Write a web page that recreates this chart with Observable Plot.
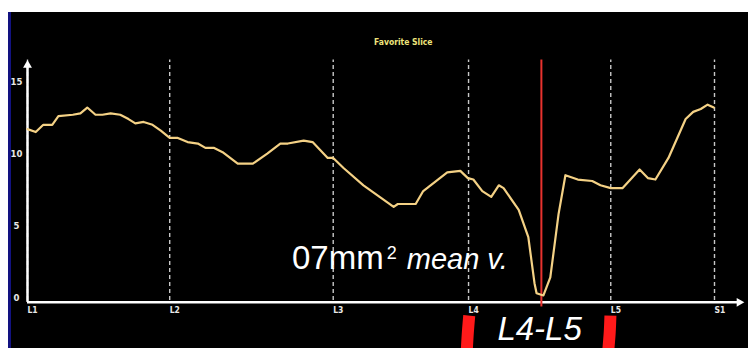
<!DOCTYPE html>
<html>
<head>
<meta charset="utf-8">
<script src="https://cdn.jsdelivr.net/npm/d3@7"></script>
<script src="https://cdn.jsdelivr.net/npm/@observablehq/plot@0.6"></script>
<style>
  html, body { margin: 0; padding: 0; background: #ffffff; width: 748px; height: 348px; overflow: hidden; }
  #panel { position: absolute; left: 8px; top: 12px; width: 737px; height: 336px; background: #000000; border-left: 3px solid #121280; }
  #chart { position: absolute; left: 0; top: 0; }
</style>
</head>
<body>
<div id="panel"></div>
<div id="chart"></div>
<script>
// Cross-sectional area along the spine (slice position 0 = L1, 100 = S1)
const slicePos = [0,1.2,2.3,3.6,4.5,6.6,7.7,8.7,9.9,10.9,12.1,13.5,14.7,15.7,16.9,18.2,19.4,20.7,21.8,23.3,24.8,25.9,27.1,28.4,30.6,32.8,34.9,36.8,37.9,40.2,41.5,43.7,44.5,46.0,48.9,53.3,53.9,56.5,57.6,61.1,63.0,64.1,64.9,66.2,67.5,68.6,69.3,71.5,72.9,73.8,74.1,75.1,76.1,77.3,78.3,80.1,82.2,83.4,84.9,86.6,89.1,90.3,91.4,93.3,95.8,96.9,98.0,99.0,99.9];
const areaValues = [11.9,11.7,12.2,12.2,12.8,12.9,13.0,13.4,12.9,12.9,13.0,12.9,12.6,12.3,12.4,12.2,11.8,11.3,11.3,11.0,10.9,10.6,10.6,10.3,9.5,9.5,10.2,10.9,10.9,11.1,11.0,9.9,9.9,9.2,8.0,6.5,6.7,6.7,7.6,8.9,9.0,8.5,8.4,7.6,7.2,8.0,7.8,6.3,4.4,1.2,0.5,0.35,1.6,6.0,8.7,8.4,8.3,8.0,7.8,7.8,9.1,8.5,8.4,9.9,12.6,13.1,13.3,13.6,13.4];

const levelLabels = ["L1","L2","L3","L4","L5","S1"];
const levelPos = [0,20.7,44.5,64.2,84.9,100];
const yTickValues = [0,5,10,15];
const favoriteSlice = [74.8];

const chartTitle = "Favorite Slice";
const annotMain = "07mm";
const annotSup = "2";
const annotItalic = "mean v.";
const annotLevel = "L4-L5";

// annotation anchors in data units
const annotMainPos = {x: 38.5, y: 2.22};
const annotSupPos = {x: 52.3, y: 2.85};
const annotItalicPos = {x: 55.2, y: 2.22};
const annotLevelPos = {x: 68.4, y: -2.71};
const bracketLeft = [{x: 64.3, y: -1.05}, {x: 64.1, y: -2.2}, {x: 63.95, y: -3.4}];
const bracketRight = [{x: 84.85, y: -1.05}, {x: 84.75, y: -2.2}, {x: 84.55, y: -3.4}];

const curve = slicePos.map((x, i) => ({x, y: areaValues[i]}));
const levels = levelPos.map((x, i) => ({x, label: levelLabels[i]}));

const plot = Plot.plot({
  width: 748,
  height: 348,
  marginLeft: 27,
  marginRight: 34,
  marginTop: 84,
  marginBottom: 48,
  x: {domain: [0, 100], axis: null},
  y: {domain: [0, 15], axis: null},
  style: {background: "transparent", overflow: "visible"},
  marks: [
    // dashed level lines
    Plot.ruleX(levels, {x: "x", y1: 0, y2: 16.7, stroke: "#c8c8c8", strokeWidth: 1.4, strokeDasharray: "4,3"}),
    // axes
    Plot.ruleX([0], {y1: -0.13, y2: 16.2, stroke: "#ffffff", strokeWidth: 2.5}),
    Plot.ruleY([-0.13], {x1: 0, x2: 103.5, stroke: "#ffffff", strokeWidth: 2.5}),
    Plot.dot([{x: 0, y: 16.35}], {x: "x", y: "y", symbol: "triangle", r: 3.3, fill: "#ffffff", stroke: null}),
    Plot.dot([{x: 103.6, y: -0.13}], {x: "x", y: "y", symbol: "triangle", r: 3.3, fill: "#ffffff", stroke: null, rotate: 90}),
    // y tick labels
    Plot.text(yTickValues, {x: -1.6, y: d => d, text: d => String(d), dy: -3, fill: "#e8e8e8", fontSize: 9.5, fontWeight: "bold", fontFamily: "DejaVu Sans Condensed, DejaVu Sans, sans-serif", textAnchor: "middle"}),
    // x level labels
    Plot.text(levels, {x: "x", y: -0.7, text: "label", dx: 0, fill: "#e8e8e8", fontSize: 8.5, fontWeight: "bold", fontFamily: "DejaVu Sans Condensed, DejaVu Sans, sans-serif", textAnchor: "start"}),
    // favorite slice marker
    Plot.ruleX(favoriteSlice, {x: d => d, y1: -0.45, y2: 16.7, stroke: "#e8322e", strokeWidth: 2}),
    // the curve
    Plot.line(curve, {x: "x", y: "y", stroke: "#f4d185", strokeWidth: 2.2, strokeLinejoin: "round"}),
    // title
    Plot.text([chartTitle], {x: 54.7, y: 17.9, text: d => d, fill: "#efe47c", fontSize: 8.5, fontWeight: "bold", fontFamily: "DejaVu Sans Condensed, DejaVu Sans, sans-serif", textAnchor: "middle"}),
    // annotation text
    Plot.text([annotMain], {x: annotMainPos.x, y: annotMainPos.y, text: d => d, fill: "#ffffff", fontSize: 33, fontFamily: "Liberation Sans, Arial, sans-serif", textAnchor: "start", lineAnchor: "bottom"}),
    Plot.text([annotSup], {x: annotSupPos.x, y: annotSupPos.y, text: d => d, fill: "#ffffff", fontSize: 18, fontFamily: "Liberation Sans, Arial, sans-serif", textAnchor: "start", lineAnchor: "bottom"}),
    Plot.text([annotItalic], {x: annotItalicPos.x, y: annotItalicPos.y, text: d => d, fill: "#ffffff", fontSize: 29, fontStyle: "italic", fontFamily: "Liberation Sans, Arial, sans-serif", textAnchor: "start", lineAnchor: "bottom"}),
    Plot.text([annotLevel], {x: annotLevelPos.x, y: annotLevelPos.y, text: d => d, fill: "#ffffff", fontSize: 33, fontStyle: "italic", fontFamily: "Liberation Sans, Arial, sans-serif", textAnchor: "start", lineAnchor: "bottom"}),
    // red brackets
    Plot.line(bracketLeft, {x: "x", y: "y", stroke: "#ff1a1a", strokeWidth: 12, curve: "natural", strokeLinecap: "butt"}),
    Plot.line(bracketRight, {x: "x", y: "y", stroke: "#ff1a1a", strokeWidth: 12, curve: "natural", strokeLinecap: "butt"})
  ]
});
document.getElementById("chart").appendChild(plot);
</script>
</body>
</html>
